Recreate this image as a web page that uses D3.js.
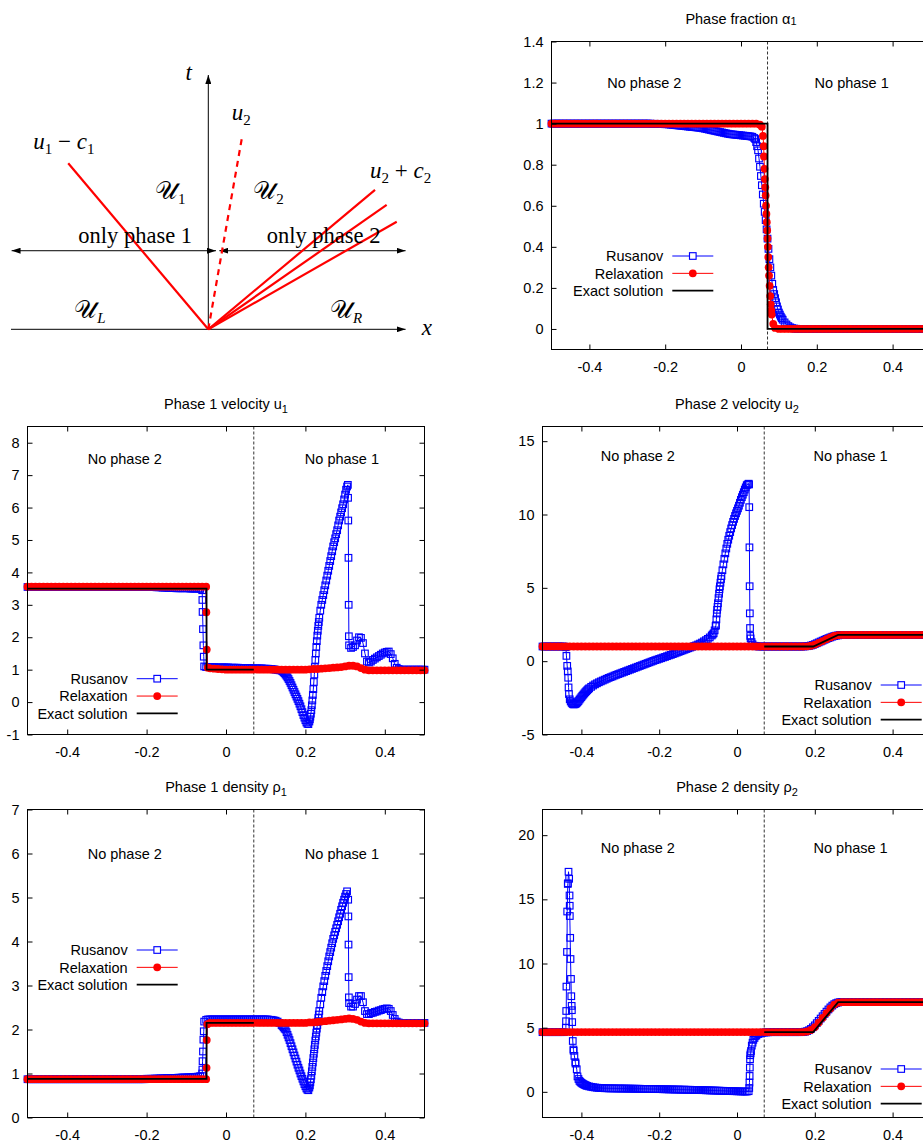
<!DOCTYPE html>
<html>
<head>
<meta charset="utf-8">
<script src="https://cdn.jsdelivr.net/npm/d3@7"></script>
<style>
  body { margin: 0; background: #fff; }
  svg { display: block; }
  text { font-family: "Liberation Sans", Arial, sans-serif; }
  .math text, text.math { font-family: "Liberation Serif", "Times New Roman", serif; }
</style>
</head>
<body>
<svg id="fig" width="923" height="1142"></svg>
<script>
// ---------- shared axis data ----------
const xTicks = [-0.4, -0.2, 0, 0.2, 0.4];
const xTickLabels = ["-0.4", "-0.2", "0", "0.2", "0.4"];
const alphaTicks = [0, 0.2, 0.4, 0.6, 0.8, 1, 1.2, 1.4];
const alphaTickLabels = ["0", "0.2", "0.4", "0.6", "0.8", "1", "1.2", "1.4"];
const u1Ticks = [-1, 0, 1, 2, 3, 4, 5, 6, 7, 8];
const u1TickLabels = ["-1", "0", "1", "2", "3", "4", "5", "6", "7", "8"];
const u2Ticks = [-5, 0, 5, 10, 15];
const u2TickLabels = ["-5", "0", "5", "10", "15"];
const rho1Ticks = [0, 1, 2, 3, 4, 5, 6, 7];
const rho1TickLabels = ["0", "1", "2", "3", "4", "5", "6", "7"];
const rho2Ticks = [0, 5, 10, 15, 20];
const rho2TickLabels = ["0", "5", "10", "15", "20"];
const legendNames = ["Rusanov", "Relaxation", "Exact solution"];
const regionNames = ["No phase 2", "No phase 1"];
const regionX = [-0.255, 0.292];
const contactX = 0.07;   // position of the phase interface (dashed line)

// cell spacing of the two numerical outputs (values below are cell by cell from x = -0.5)
const cellWidth = 0.005;
const relaxWidth = 0.01;

// ---------- phase fraction alpha1 ----------
const alphaRusanov = [
  1,1,1,1,1,1,1,1,1,1, 1,1,1,1,1,1,1,1,1,1,
  1,1,1,1,1,1,1,1,1,1, 1,1,1,1,1,1,1,1,1,1,
  1,1,1,1,1,1,1,1,1,1, 1,1,1,0.999,0.999,0.999,0.999,0.998,0.998,0.998,
  0.997,0.997,0.996,0.995,0.994,0.993,0.992,0.991,0.99,0.989, 0.988,0.987,0.986,0.985,0.984,0.983,0.982,0.981,0.98,0.979,
  0.977,0.975,0.973,0.971,0.969,0.967,0.965,0.963,0.961,0.959, 0.957,0.955,0.953,0.951,0.949,0.948,0.947,0.946,0.945,0.944,
  0.943,0.942,0.941,0.94,0.939,0.938,0.936,0.93,0.91,0.87, 0.79,0.7,0.61,0.53,0.44,0.34,0.26,0.19,0.15,0.11,
  0.08,0.06,0.045,0.032,0.022,0.014,0.008,0.004,0.002,0.001, 0,0,0,0,0,0,0,0,0,0,
  0,0,0,0,0,0,0,0,0,0, 0,0,0,0,0,0,0,0,0,0,
  0,0,0,0,0,0,0,0,0,0, 0,0,0,0,0,0,0,0,0,0,
  0,0,0,0,0,0,0,0,0,0, 0,0,0,0,0,0,0,0,0,0,
  0
];
const alphaRusanovExtra = [
  [0.0375,0.925],[0.0425,0.89],[0.0475,0.83],[0.0525,0.745],[0.0575,0.655],[0.0625,0.57],
  [0.0675,0.485],[0.0725,0.39],[0.0775,0.3],[0.0825,0.22],[0.0875,0.17],[0.0925,0.13],
  [0.0975,0.095],[0.1025,0.07],[0.1075,0.052]
];
const alphaRelax = [
  1,1,1,1,1,1,1,1,1,1,
  1,1,1,1,1,1,1,1,1,1,
  1,1,1,1,1,1,1,1,1,1,
  1,1,1,1,1,1,1,1,1,1,
  1,1,1,1,1,1,1,1,1,1,
  1,1,1,1,1,0.995,0.89,0.44,0.09,0.005,
  0,0,0,0,0,0,0,0,0,0,
  0,0,0,0,0,0,0,0,0,0,
  0,0,0,0,0,0,0,0,0,0,
  0,0,0,0,0,0,0,0,0,0,
  0
];
const alphaRelaxExtra = [
  [0.055,0.985],[0.058,0.94],[0.0605,0.84],[0.062,0.78],[0.063,0.73],[0.064,0.69],[0.065,0.65],
  [0.066,0.6],[0.067,0.56],[0.068,0.52],[0.069,0.48],[0.071,0.4],[0.072,0.35],[0.073,0.3],
  [0.074,0.26],[0.0755,0.21],[0.077,0.16],[0.0785,0.12],[0.081,0.07],[0.085,0.025]
];
const alphaExact = [[-0.5,1],[0.07,1],[0.07,0],[0.5,0]];

// ---------- phase 1 velocity u1 ----------
const u1Rusanov = [
  3.55,3.55,3.55,3.55,3.55,3.55,3.55,3.55,3.55,3.55, 3.55,3.55,3.55,3.55,3.55,3.55,3.55,3.55,3.55,3.55,
  3.55,3.55,3.55,3.55,3.55,3.55,3.55,3.55,3.55,3.55, 3.55,3.55,3.55,3.55,3.55,3.55,3.55,3.55,3.55,3.55,
  3.55,3.55,3.55,3.55,3.55,3.55,3.55,3.55,3.55,3.55, 3.55,3.55,3.55,3.55,3.55,3.55,3.55,3.55,3.55,3.55,
  3.55,3.55,3.55,3.55,3.55,3.54,3.54,3.54,3.53,3.53, 3.53,3.52,3.52,3.52,3.52,3.51,3.51,3.51,3.51,3.51,
  3.51,3.51,3.5,3.5,3.5,3.5,3.5,3.49,3.45,1.1, 1.08,1.08,1.08,1.08,1.08,1.07,1.07,1.07,1.07,1.07,
  1.07,1.07,1.06,1.06,1.06,1.06,1.06,1.05,1.05,1.05, 1.05,1.05,1.05,1.04,1.04,1.04,1.04,1.04,1.04,1.03,
  1.03,1.03,1.02,1.02,1.01,1,0.99,0.98,0.97,0.92, 0.85,0.76,0.65,0.52,0.38,0.24,0.1,-0.05,-0.22,-0.4,
  -0.56,-0.67,-0.6,-0.25,0.4,1.3,2.05,2.6,3,3.3, 3.6,3.9,4.2,4.5,4.8,5.05,5.3,5.6,5.85,6.1,
  6.4,6.65,1.75,1.67,1.7,1.75,1.9,2,1.98,1.82, 1.5,1.25,1.22,1.25,1.3,1.34,1.38,1.42,1.46,1.5,
  1.53,1.55,1.56,1.48,1.35,1.18,1.06,1.02,1,1, 1,1,1,1,1,1,1,1,1,1,
  1
];
const u1RusanovExtra = [
  [-0.0595,3.15],[-0.059,2.78],[-0.058,2.25],[-0.057,1.75],[-0.056,1.4],
  [0.1425,0.95],[0.1475,0.89],[0.1525,0.81],[0.1575,0.71],[0.1625,0.59],[0.1675,0.45],
  [0.1725,0.31],[0.1775,0.17],[0.1825,0.03],[0.1875,-0.13],[0.1925,-0.31],[0.1975,-0.48],
  [0.2025,-0.63],[0.2075,-0.68],[0.21125,-0.53],[0.2125,-0.45],[0.21375,-0.36],[0.21625,-0.1],
  [0.2175,0.05],[0.21875,0.22],[0.22125,0.62],[0.2225,0.85],[0.22375,1.08],[0.22625,1.5],
  [0.2275,1.7],[0.22875,1.88],[0.23125,2.2],[0.2325,2.35],[0.23375,2.47],[0.2375,2.82],
  [0.2425,3.15],[0.2475,3.45],[0.2525,3.75],[0.2575,4.05],[0.2625,4.35],[0.2675,4.65],
  [0.2725,4.93],[0.2775,5.18],[0.2825,5.45],[0.2875,5.72],[0.2925,5.98],[0.2975,6.25],
  [0.3025,6.55],[0.307,6.7],[0.3075,6.3],[0.308,5.6],[0.3085,4.45],[0.309,3.0],[0.3095,2.03]
];
const u1Relax = [
  3.56,3.56,3.56,3.56,3.56,3.56,3.56,3.56,3.56,3.56,
  3.56,3.56,3.56,3.56,3.56,3.56,3.56,3.56,3.56,3.56,
  3.56,3.56,3.56,3.56,3.56,3.56,3.56,3.56,3.56,3.56,
  3.56,3.56,3.56,3.56,3.56,3.56,3.56,3.56,3.56,3.56,
  3.56,3.56,3.56,3.56,3.56,3.56,1.04,1.03,1.02,1.01,
  1,1,1,1,1,1,1,1,1,1,
  1,1,1,1,1,1,1,1,1,1,
  1,1.01,1.02,1.02,1.03,1.04,1.05,1.06,1.07,1.08,
  1.1,1.12,1.12,1.1,1.05,1,0.98,0.98,0.98,0.98,
  0.98,0.98,0.98,0.98,0.98,0.98,0.98,0.98,0.98,0.98,
  0.98
];
const u1RelaxExtra = [[-0.0495,2.77],[-0.0485,1.62],[-0.046,1.06]];
const u1Exact = [[-0.5,3.5],[-0.049,3.5],[-0.049,1.0],[0.07,1.0]];

// ---------- phase 2 velocity u2 ----------
const u2Rusanov = [
  1,1,1,1,1,1,1,1,1,1, 1,1,0.95,-0.7,-2.6,-2.85,-2.95,-2.92,-2.8,-2.62,
  -2.45,-2.28,-2.12,-1.98,-1.85,-1.75,-1.66,-1.58,-1.51,-1.44, -1.38,-1.32,-1.26,-1.2,-1.14,-1.09,-1.04,-0.98,-0.93,-0.88,
  -0.83,-0.78,-0.73,-0.68,-0.63,-0.58,-0.53,-0.48,-0.43,-0.38, -0.33,-0.28,-0.23,-0.18,-0.13,-0.08,-0.03,0.02,0.07,0.11,
  0.16,0.2,0.25,0.29,0.34,0.39,0.43,0.48,0.53,0.58, 0.63,0.68,0.73,0.78,0.83,0.88,0.93,0.98,1.03,1.08,
  1.14,1.2,1.27,1.35,1.43,1.52,1.62,1.75,1.9,2.4, 3.7,4.9,5.8,6.6,7.35,8,8.55,9.05,9.5,9.9,
  10.25,10.6,11,11.35,11.7,12,12.1,1.55,1.15,1.05, 1.02,1,1,1,1,1,1,1,1,1,
  1,1,1,1,1,1,1,1,1,1, 1,1,1,1,1,1.01,1.02,1.04,1.07,1.11,
  1.16,1.22,1.28,1.34,1.4,1.46,1.52,1.57,1.62,1.67, 1.71,1.74,1.76,1.78,1.79,1.79,1.79,1.79,1.79,1.79,
  1.79,1.79,1.79,1.79,1.79,1.79,1.79,1.79,1.79,1.79, 1.79,1.79,1.79,1.79,1.79,1.79,1.79,1.79,1.79,1.79,
  1.79,1.79,1.79,1.79,1.79,1.79,1.79,1.79,1.79,1.79, 1.79,1.79,1.79,1.79,1.79,1.79,1.79,1.79,1.79,1.79,
  1.79
];
const u2RusanovExtra = [
  [-0.4385,0.36],[-0.4365,-0.32],[-0.434,-1.13],[-0.433,-1.79],[-0.432,-2.24],[-0.4275,-2.75],[-0.4225,-2.92],
  [-0.4175,-2.94],[-0.4125,-2.87],[-0.4075,-2.72],[-0.4025,-2.54],[-0.3975,-2.36],[-0.3925,-2.2],
  [-0.3875,-2.05],[-0.3825,-1.91],
  [-0.0625,1.82],[-0.0575,2.1],[-0.054,2.45],[-0.053,2.85],[-0.052,3.25],[-0.051,3.5],[-0.049,3.95],
  [-0.0475,4.3],[-0.046,4.6],[-0.044,5.1],[-0.0425,5.35],[-0.041,5.6],[-0.0375,6.2],[-0.0325,6.98],
  [-0.0275,7.68],[-0.0225,8.28],[-0.0175,8.8],[-0.0125,9.28],[-0.0075,9.7],[-0.0025,10.08],
  [0.0025,10.42],[0.0075,10.8],[0.0125,11.18],[0.0175,11.52],[0.0225,11.85],[0.0275,12.05],
  [0.031,12.05],[0.0315,10.5],[0.032,7.76],[0.0325,5.11],[0.033,3.26],[0.0335,2.26],[0.034,1.72],[0.0375,1.3]
];
const u2Relax = [
  1,1,1,1,1,1,1,1,1,1,
  1,1,1,1,1,1,1,1,1,1,
  1,1,1,1,1,1,1,1,1,1,
  1,1,1,1,1,1,1,1,1,1,
  1,1,1,1,1,1,1,1,1,1,
  1,1,1,1,1,1,1,1,1,1,
  1,1,1,1,1,1,1,1,1.01,1.05,
  1.13,1.25,1.37,1.5,1.62,1.72,1.77,1.79,1.79,1.79,
  1.79,1.79,1.79,1.79,1.79,1.79,1.79,1.79,1.79,1.79,
  1.79,1.79,1.79,1.79,1.79,1.79,1.79,1.79,1.79,1.79,
  1.79
];
const u2Exact = [[0.07,1.0],[0.196,1.0],[0.26,1.79],[0.5,1.79]];

// ---------- phase 1 density rho1 ----------
const rho1Rusanov = [
  0.87,0.87,0.87,0.87,0.87,0.87,0.87,0.87,0.87,0.87, 0.87,0.87,0.87,0.87,0.87,0.87,0.87,0.87,0.87,0.87,
  0.87,0.87,0.87,0.87,0.87,0.87,0.87,0.87,0.87,0.87, 0.87,0.87,0.87,0.87,0.87,0.87,0.87,0.87,0.87,0.87,
  0.87,0.87,0.87,0.87,0.87,0.87,0.87,0.87,0.87,0.87, 0.87,0.87,0.87,0.87,0.87,0.87,0.87,0.87,0.87,0.87,
  0.88,0.88,0.88,0.88,0.885,0.885,0.885,0.89,0.89,0.89, 0.895,0.895,0.895,0.9,0.9,0.9,0.905,0.905,0.91,0.91,
  0.91,0.915,0.915,0.92,0.92,0.925,0.93,0.94,1,2.18, 2.22,2.23,2.23,2.23,2.23,2.23,2.23,2.23,2.23,2.23,
  2.23,2.23,2.23,2.23,2.23,2.23,2.23,2.23,2.23,2.23, 2.23,2.23,2.23,2.23,2.23,2.23,2.23,2.23,2.23,2.23,
  2.23,2.23,2.22,2.22,2.21,2.2,2.18,2.15,2.1,2.05, 2,1.88,1.76,1.62,1.48,1.34,1.2,1.07,0.94,0.82,
  0.71,0.63,0.68,0.95,1.35,1.75,2.1,2.42,2.72,2.98, 3.22,3.44,3.66,3.86,4.06,4.22,4.38,4.55,4.72,4.88,
  5.02,5.14,2.6,2.52,2.52,2.58,2.68,2.76,2.76,2.62, 2.42,2.35,2.35,2.37,2.38,2.4,2.41,2.43,2.44,2.46,
  2.47,2.48,2.47,2.42,2.33,2.24,2.18,2.16,2.15,2.15, 2.15,2.15,2.15,2.15,2.15,2.15,2.15,2.15,2.15,2.15,
  2.15
];
const rho1RusanovExtra = [
  [-0.0595,1.09],[-0.059,1.28],[-0.058,1.5],[-0.057,1.77],[-0.056,1.96],
  [0.1425,2.08],[0.1475,2.02],[0.1525,1.94],[0.1575,1.82],[0.1625,1.69],[0.1675,1.55],
  [0.1725,1.41],[0.1775,1.27],[0.1825,1.13],[0.1875,1.0],[0.1925,0.88],[0.1975,0.76],
  [0.2025,0.66],[0.2075,0.62],[0.21125,0.73],[0.2125,0.8],[0.21375,0.87],[0.21625,1.05],
  [0.2175,1.15],[0.21875,1.25],[0.22125,1.45],[0.2225,1.55],[0.22375,1.65],[0.22625,1.84],
  [0.2275,1.93],[0.22875,2.02],[0.23125,2.18],[0.2325,2.26],[0.23375,2.34],[0.2375,2.57],
  [0.2425,2.85],[0.2475,3.1],[0.2525,3.33],[0.2575,3.55],[0.2625,3.76],[0.2675,3.96],
  [0.2725,4.14],[0.2775,4.3],[0.2825,4.46],[0.2875,4.63],[0.2925,4.8],[0.2975,4.95],
  [0.3025,5.08],[0.3078,4.95],[0.3082,4.57],[0.3086,3.93],[0.309,3.19],[0.3095,2.73]
];
const rho1Relax = [
  0.87,0.87,0.87,0.87,0.87,0.87,0.87,0.87,0.87,0.87,
  0.87,0.87,0.87,0.87,0.87,0.87,0.87,0.87,0.87,0.87,
  0.87,0.87,0.87,0.87,0.87,0.87,0.87,0.87,0.87,0.87,
  0.87,0.87,0.87,0.87,0.87,0.87,0.87,0.87,0.87,0.87,
  0.87,0.87,0.87,0.87,0.87,0.87,2.15,2.15,2.15,2.15,
  2.15,2.15,2.15,2.15,2.15,2.15,2.15,2.15,2.15,2.15,
  2.15,2.15,2.15,2.15,2.15,2.15,2.15,2.15,2.15,2.15,
  2.15,2.16,2.16,2.17,2.18,2.19,2.2,2.21,2.22,2.23,
  2.24,2.25,2.24,2.22,2.18,2.15,2.14,2.14,2.14,2.14,
  2.14,2.14,2.14,2.14,2.14,2.14,2.14,2.14,2.14,2.14,
  2.14
];
const rho1RelaxExtra = [[-0.049,1.13],[-0.0485,1.76],[-0.047,2.12]];
const rho1Exact = [[-0.5,0.88],[-0.049,0.88],[-0.049,2.15],[0.07,2.15]];

// ---------- phase 2 density rho2 ----------
const rho2Rusanov = [
  4.65,4.65,4.65,4.65,4.65,4.65,4.65,4.65,4.65,4.65, 4.65,4.65,5,16.2,14.5,6.7,3.2,2.2,1.2,0.85,
  0.7,0.6,0.52,0.46,0.42,0.39,0.36,0.34,0.32,0.31, 0.3,0.29,0.28,0.28,0.27,0.27,0.27,0.27,0.26,0.26,
  0.26,0.26,0.26,0.25,0.25,0.25,0.25,0.24,0.24,0.24, 0.24,0.23,0.23,0.23,0.23,0.22,0.22,0.22,0.22,0.21,
  0.21,0.21,0.2,0.2,0.2,0.19,0.19,0.19,0.18,0.18, 0.18,0.17,0.17,0.17,0.16,0.16,0.16,0.15,0.15,0.15,
  0.14,0.14,0.13,0.13,0.12,0.12,0.11,0.11,0.1,0.1, 0.09,0.09,0.08,0.08,0.07,0.07,0.06,0.06,0.05,0.05,
  0.04,0.04,0.03,0.03,0.02,0.02,0.05,3,3.83,4.2, 4.4,4.5,4.55,4.6,4.62,4.63,4.64,4.65,4.65,4.65,
  4.65,4.65,4.65,4.65,4.65,4.65,4.65,4.65,4.65,4.65, 4.65,4.65,4.65,4.65,4.67,4.69,4.73,4.8,4.9,5.03,
  5.18,5.35,5.53,5.71,5.89,6.07,6.25,6.42,6.58,6.72, 6.83,6.91,6.96,6.99,7,7,7,7,7,7,
  7,7,7,7,7,7,7,7,7,7, 7,7,7,7,7,7,7,7,7,7,
  7,7,7,7,7,7,7,7,7,7, 7,7,7,7,7,7,7,7,7,7,
  7
];
const rho2RusanovExtra = [
  [-0.4395,5.5],[-0.439,6.3],[-0.4385,8.2],[-0.437,10.9],[-0.4365,14.05],[-0.4348,16.25],[-0.4331,17.15],
  [-0.4315,16.6],[-0.4305,15.3],[-0.4298,13.7],[-0.4288,12.0],[-0.428,10.35],[-0.4268,8.8],[-0.426,7.45],
  [-0.4245,6.36],[-0.4237,5.43],[-0.4222,3.96],[-0.4205,3.3],[-0.418,2.8],[-0.4155,2.3],[-0.412,1.76],
  [-0.4075,1.0],[-0.4025,0.77],[-0.3975,0.65],[-0.3925,0.56],[-0.3875,0.49],
  [0.0315,0.3],[0.032,0.72],[0.0325,1.24],[0.033,1.89],[0.0335,2.54],[0.034,2.85],[0.036,3.18],
  [0.038,3.6],[0.042,4.05],[0.0475,4.35]
];
const rho2Relax = [
  4.66,4.66,4.66,4.66,4.66,4.66,4.66,4.66,4.66,4.66,
  4.66,4.66,4.66,4.66,4.66,4.66,4.66,4.66,4.66,4.66,
  4.66,4.66,4.66,4.66,4.66,4.66,4.66,4.66,4.66,4.66,
  4.66,4.66,4.66,4.66,4.66,4.66,4.66,4.66,4.66,4.66,
  4.66,4.66,4.66,4.66,4.66,4.66,4.66,4.66,4.66,4.66,
  4.66,4.66,4.66,4.66,4.66,4.66,4.66,4.66,4.66,4.66,
  4.66,4.66,4.66,4.66,4.66,4.66,4.66,4.66,4.7,4.82,
  5.05,5.4,5.77,6.14,6.5,6.8,6.95,6.99,6.99,6.99,
  6.99,6.99,6.99,6.99,6.99,6.99,6.99,6.99,6.99,6.99,
  6.99,6.99,6.99,6.99,6.99,6.99,6.99,6.99,6.99,6.99,
  6.99
];
const rho2Exact = [[0.07,4.66],[0.196,4.66],[0.26,6.99],[0.5,6.99]];

// ---------- wave diagram (x-t plane) ----------
// end points of the characteristic lines, in diagram units (x in [-1,1], t in [0,1])
const waves = [
  { x: -0.71, t: 0.653, dashed: false },   // u1 - c1
  { x: 0.172, t: 0.76, dashed: true },     // u2 (interface)
  { x: 0.845, t: 0.548, dashed: false },   // u2 + c2 fan
  { x: 0.904, t: 0.489, dashed: false },
  { x: 0.955, t: 0.423, dashed: false }
];
const phaseBarT = 0.309;

// ---------- helpers ----------
// numerical output: values cell by cell from x=-0.5, plus extra cells read in steep parts
function onGrid(values, step, extra) {
  const pts = values.map((v, i) => [-0.5 + i * step, v]);
  return pts.concat(extra || []).sort((a, b) => a[0] - b[0]);
}

const svg = d3.select("#fig");
const defs = svg.append("defs");
defs.append("marker")
    .attr("id", "arrow")
    .attr("viewBox", "0 -3 9 6")
    .attr("refX", 9)
    .attr("refY", 0)
    .attr("markerWidth", 9)
    .attr("markerHeight", 6)
    .attr("markerUnits", "userSpaceOnUse")
    .attr("orient", "auto-start-reverse")
  .append("path")
    .attr("d", "M0,-3L9,0L0,3Z")
    .attr("fill", "#000");

const BLUE = "#0000ff", RED = "#ff0000";
const SQ = 6.6;      // Rusanov square side
const DOT = 3.9;     // Relaxation dot radius

const panels = [
  { title: "Phase fraction α", sub: "1", subDy: 1,
    left: 551.5, right: 930.5, top: 41.5, bottom: 349.5,
    yDomain: [-0.1, 1.4], yTicks: alphaTicks, yTickLabels: alphaTickLabels, regionY: 1.2,
    legendX: 663.3, legendY: 256,
    rusanov: onGrid(alphaRusanov, cellWidth, alphaRusanovExtra),
    relax: onGrid(alphaRelax, relaxWidth, alphaRelaxExtra), exact: alphaExact },
  { title: "Phase 1 velocity u", sub: "1", subDy: 4,
    left: 27.5, right: 424.5, top: 426.5, bottom: 734.5,
    yDomain: [-1, 8.5], yTicks: u1Ticks, yTickLabels: u1TickLabels, regionY: 7.5,
    legendX: 127.7, legendY: 678.7,
    rusanov: onGrid(u1Rusanov, cellWidth, u1RusanovExtra),
    relax: onGrid(u1Relax, relaxWidth, u1RelaxExtra), exact: u1Exact },
  { title: "Phase 2 velocity u", sub: "2", subDy: 4,
    left: 542.5, right: 931.5, top: 426.5, bottom: 734.5,
    yDomain: [-5, 16], yTicks: u2Ticks, yTickLabels: u2TickLabels, regionY: 14,
    legendX: 871.7, legendY: 685,
    rusanov: onGrid(u2Rusanov, cellWidth, u2RusanovExtra),
    relax: onGrid(u2Relax, relaxWidth, []), exact: u2Exact },
  { title: "Phase 1 density ρ", sub: "1", subDy: 4,
    left: 27.5, right: 424.5, top: 809.5, bottom: 1117.5,
    yDomain: [0, 7], yTicks: rho1Ticks, yTickLabels: rho1TickLabels, regionY: 6,
    legendX: 127.7, legendY: 950,
    rusanov: onGrid(rho1Rusanov, cellWidth, rho1RusanovExtra),
    relax: onGrid(rho1Relax, relaxWidth, rho1RelaxExtra), exact: rho1Exact },
  { title: "Phase 2 density ρ", sub: "2", subDy: 4,
    left: 542.5, right: 931.5, top: 809.5, bottom: 1117.5,
    yDomain: [-2, 22], yTicks: rho2Ticks, yTickLabels: rho2TickLabels, regionY: 19,
    legendX: 871.7, legendY: 1069,
    rusanov: onGrid(rho2Rusanov, cellWidth, rho2RusanovExtra),
    relax: onGrid(rho2Relax, relaxWidth, []), exact: rho2Exact }
];

function drawPanel(p) {
  const x = d3.scaleLinear().domain([-0.5, 0.5]).range([p.left, p.right]);
  const y = d3.scaleLinear().domain(p.yDomain).range([p.bottom, p.top]);
  const line = d3.line().x(d => x(d[0])).y(d => y(d[1]));
  const g = svg.append("g");

  // title
  const title = g.append("text")
    .attr("x", (p.left + p.right) / 2)
    .attr("y", p.top - 17.5)
    .attr("text-anchor", "middle")
    .attr("font-size", 14.5)
    .text(p.title);
  title.append("tspan").attr("font-size", 11).attr("dy", p.subDy).text(p.sub);

  // interface position
  g.append("line")
    .attr("x1", x(contactX)).attr("x2", x(contactX))
    .attr("y1", p.top).attr("y2", p.bottom)
    .attr("stroke", "#333")
    .attr("stroke-width", 1)
    .attr("stroke-dasharray", "3,2");

  // region labels
  g.selectAll("text.region")
    .data(regionNames)
    .join("text")
    .attr("class", "region")
    .attr("x", (d, i) => x(regionX[i]))
    .attr("y", y(p.regionY) + 5)
    .attr("text-anchor", "middle")
    .attr("font-size", 14.5)
    .text(d => d);

  // Rusanov: open squares + thin line
  g.append("path").datum(p.rusanov)
    .attr("d", line).attr("fill", "none")
    .attr("stroke", BLUE).attr("stroke-width", 1);
  g.append("g").selectAll("rect")
    .data(p.rusanov)
    .join("rect")
    .attr("x", d => x(d[0]) - SQ / 2)
    .attr("y", d => y(d[1]) - SQ / 2)
    .attr("width", SQ).attr("height", SQ)
    .attr("fill", "none")
    .attr("stroke", BLUE)
    .attr("stroke-width", 1.15);

  // Relaxation: filled circles + thin line
  g.append("path").datum(p.relax)
    .attr("d", line).attr("fill", "none")
    .attr("stroke", RED).attr("stroke-width", 1);
  g.append("g").selectAll("circle")
    .data(p.relax)
    .join("circle")
    .attr("cx", d => x(d[0]))
    .attr("cy", d => y(d[1]))
    .attr("r", DOT)
    .attr("fill", RED);

  // exact solution
  g.append("path").datum(p.exact)
    .attr("d", line).attr("fill", "none")
    .attr("stroke", "#000").attr("stroke-width", 1.8);

  // frame + inward ticks on all four sides
  g.append("rect")
    .attr("x", p.left).attr("y", p.top)
    .attr("width", p.right - p.left).attr("height", p.bottom - p.top)
    .attr("fill", "none").attr("stroke", "#000").attr("stroke-width", 1);

  const styleAxis = a => {
    a.select(".domain").remove();
    a.attr("font-size", 14.5).attr("font-family", "'Liberation Sans', Arial, sans-serif");
  };
  g.append("g").attr("transform", `translate(0,${p.bottom})`)
    .call(d3.axisBottom(x).tickValues(xTicks).tickFormat((d, i) => xTickLabels[i]).tickSize(-5).tickPadding(12))
    .call(styleAxis);
  g.append("g").attr("transform", `translate(0,${p.top})`)
    .call(d3.axisTop(x).tickValues(xTicks).tickFormat("").tickSize(-5))
    .call(styleAxis);
  g.append("g").attr("transform", `translate(${p.left},0)`)
    .call(d3.axisLeft(y).tickValues(p.yTicks).tickFormat((d, i) => p.yTickLabels[i]).tickSize(-5).tickPadding(8))
    .call(styleAxis);
  g.append("g").attr("transform", `translate(${p.right},0)`)
    .call(d3.axisRight(y).tickValues(p.yTicks).tickFormat("").tickSize(-5))
    .call(styleAxis);

  // legend
  const leg = g.append("g");
  const rowGap = 17.35;
  legendNames.forEach((name, i) => {
    const ly = p.legendY + i * rowGap;
    leg.append("text")
      .attr("x", p.legendX).attr("y", ly + 5.3)
      .attr("text-anchor", "end")
      .attr("font-size", 14.5)
      .text(name);
    leg.append("line")
      .attr("x1", p.legendX + 9).attr("x2", p.legendX + 50)
      .attr("y1", ly).attr("y2", ly)
      .attr("stroke", [BLUE, RED, "#000"][i])
      .attr("stroke-width", i === 2 ? 1.8 : 1);
    if (i === 0) {
      leg.append("rect")
        .attr("x", p.legendX + 29.5 - SQ / 2).attr("y", ly - SQ / 2)
        .attr("width", SQ).attr("height", SQ)
        .attr("fill", "#fff").attr("stroke", BLUE).attr("stroke-width", 1.15);
    } else if (i === 1) {
      leg.append("circle")
        .attr("cx", p.legendX + 29.5).attr("cy", ly)
        .attr("r", DOT).attr("fill", RED);
    }
  });
}

panels.forEach(drawPanel);

// ---------- wave diagram ----------
const dX = d3.scaleLinear().domain([-1, 1]).range([11, 405.6]);
const dT = d3.scaleLinear().domain([0, 1]).range([329.3, 75]);
const dg = svg.append("g");

// axes
dg.append("line")
  .attr("x1", dX(-1)).attr("x2", dX(1)).attr("y1", dT(0)).attr("y2", dT(0))
  .attr("stroke", "#000").attr("stroke-width", 1).attr("marker-end", "url(#arrow)");
dg.append("line")
  .attr("x1", dX(0)).attr("x2", dX(0)).attr("y1", dT(0)).attr("y2", dT(1))
  .attr("stroke", "#000").attr("stroke-width", 1).attr("marker-end", "url(#arrow)");

// extent of each single-phase zone
[[-0.997, 0.039], [0.056, 1]].forEach(([a, b]) => {
  dg.append("line")
    .attr("x1", dX(a)).attr("x2", dX(b)).attr("y1", dT(phaseBarT)).attr("y2", dT(phaseBarT))
    .attr("stroke", "#000").attr("stroke-width", 1)
    .attr("marker-start", "url(#arrow)").attr("marker-end", "url(#arrow)");
});

// characteristic lines
dg.selectAll("line.wave")
  .data(waves)
  .join("line")
  .attr("class", "wave")
  .attr("x1", dX(0)).attr("y1", dT(0))
  .attr("x2", d => dX(d.x)).attr("y2", d => dT(d.t))
  .attr("stroke", RED)
  .attr("stroke-width", 2.2)
  .attr("stroke-dasharray", d => d.dashed ? "6,5" : null);

// labels (serif, TeX-like)
function mathLabel(xv, tv, parts, size) {
  const t = dg.append("text")
    .attr("class", "math")
    .attr("x", dX(xv)).attr("y", dT(tv))
    .attr("font-size", size || 23);
  let shift = 0;
  parts.forEach(p => {
    const s = t.append("tspan").text(p.t);
    if (p.it) s.attr("font-style", "italic");
    if (p.sub) {
      s.attr("font-size", 15).attr("dy", 5 - shift);
      shift = 5;
    } else if (shift) {
      s.attr("dy", -shift);
      shift = 0;
    }
  });
  return t;
}

mathLabel(-0.115, 0.98, [{ t: "t", it: true }]);
mathLabel(1.082, -0.022, [{ t: "x", it: true }]);
mathLabel(0.119, 0.823, [{ t: "u", it: true }, { t: "2", sub: true }]);
mathLabel(-0.887, 0.709, [{ t: "u", it: true }, { t: "1", sub: true }, { t: " − " }, { t: "c", it: true }, { t: "1", sub: true }]);
mathLabel(0.82, 0.594, [{ t: "u", it: true }, { t: "2", sub: true }, { t: " + " }, { t: "c", it: true }, { t: "2", sub: true }]);
mathLabel(-0.27, 0.511, [{ t: "𝒰" }, { t: "1", sub: true }], 25);
mathLabel(0.228, 0.511, [{ t: "𝒰" }, { t: "2", sub: true }], 25);
mathLabel(-0.68, 0.043, [{ t: "𝒰" }, { t: "L", it: true, sub: true }], 25);
mathLabel(0.617, 0.043, [{ t: "𝒰" }, { t: "R", it: true, sub: true }], 25);
mathLabel(-0.659, 0.34, [{ t: "only phase 1" }], 22.5);
mathLabel(0.296, 0.34, [{ t: "only phase 2" }], 22.5);
</script>
</body>
</html>
